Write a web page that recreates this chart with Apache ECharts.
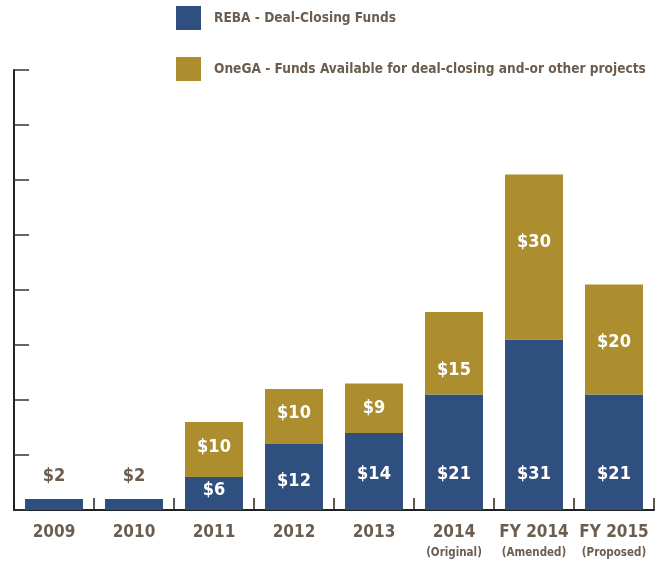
<!DOCTYPE html>
<html><head><meta charset="utf-8">
<script src="https://cdn.jsdelivr.net/npm/echarts@6/dist/echarts.min.js"></script>
<style>html,body{margin:0;padding:0;background:#fff}#c{width:656px;height:563px}</style>
</head><body><div id="c"></div>
<script>
const categories = ['2009', '2010', '2011', '2012', '2013', '2014', 'FY 2014', 'FY 2015'];
const subLabels = ['', '', '', '', '', '(Original)', '(Amended)', '(Proposed)'];
const rebaValues = [2, 2, 6, 12, 14, 21, 31, 21];
const onegaValues = [null, null, 10, 10, 9, 15, 30, 20];
const seriesNames = ['REBA - Deal-Closing Funds', 'OneGA - Funds Available for deal-closing and-or other projects'];
const yMax = 80, yStep = 10;

const FONT = "'Liberation Sans Narrow', 'DejaVu Sans Condensed', 'Roboto Condensed', sans-serif";
const TXT = '#6b5d4f';
const BLUE = '#2f4f7f';
const GOLD = '#ad8e2e';

// label placement styles (not data)
const rebaLabelStyle = [
  {position: 'top', distance: 14, color: TXT},
  {position: 'top', distance: 14, color: TXT},
  {position: 'inside', offset: [0, -3]},
  {position: 'insideBottom', distance: 20},
  {}, {}, {}, {}
];
const onegaLabelOffset = [0, 0, -2, -3, 0, 17, -15, 3];

const chart = echarts.init(document.getElementById('c'), null, {renderer: 'canvas'});
chart.setOption({
  animation: false,
  textStyle: {fontFamily: FONT},
  legend: {
    orient: 'vertical', left: 171, top: 1,
    itemWidth: 25, itemHeight: 24, itemGap: 27,
    icon: 'rect',
    textStyle: {fontFamily: FONT, fontWeight: 'bold', fontSize: 13.6, color: TXT, padding: [0, 0, 0, 8]},
    data: seriesNames
  },
  grid: {left: 14, right: 2, top: 70, bottom: 53, containLabel: false},
  xAxis: {
    type: 'category',
    data: categories.map((c, i) => subLabels[i] ? c + '\n{s|' + subLabels[i] + '}' : c),
    axisLine: {show: true, lineStyle: {color: '#222', width: 2}},
    axisTick: {show: true, inside: true, length: 12, interval: 0, alignWithLabel: false, lineStyle: {color: '#222', width: 1.5}},
    axisLabel: {
      interval: 0, hideOverlap: false,
      margin: 12,
      fontFamily: FONT, fontWeight: 'bold', fontSize: 17, color: TXT, lineHeight: 22,
      rich: {s: {fontFamily: FONT, fontWeight: 'bold', fontSize: 11.5, color: TXT, lineHeight: 18}}
    }
  },
  yAxis: {
    type: 'value', min: 0, max: yMax, interval: yStep,
    axisLine: {show: true, lineStyle: {color: '#222', width: 2}},
    axisTick: {show: true, inside: true, length: 15, lineStyle: {color: '#333', width: 1.5}},
    axisLabel: {show: false},
    splitLine: {show: false}
  },
  series: [
    {
      name: seriesNames[0], type: 'bar', stack: 'a', barWidth: 58,
      itemStyle: {color: BLUE},
      label: {show: true, position: 'insideBottom', distance: 27, fontFamily: FONT, fontWeight: 'bold', fontSize: 18, color: '#fff', formatter: p => '$' + p.value},
      data: rebaValues.map((v, i) => ({value: v, label: rebaLabelStyle[i]}))
    },
    {
      name: seriesNames[1], type: 'bar', stack: 'a', barWidth: 58,
      itemStyle: {color: GOLD},
      label: {show: true, position: 'inside', fontFamily: FONT, fontWeight: 'bold', fontSize: 18, color: '#fff', formatter: p => p.value == null ? '' : '$' + p.value},
      data: onegaValues.map((v, i) => ({value: v, label: {offset: [0, onegaLabelOffset[i]]}}))
    }
  ]
});
</script></body></html>
